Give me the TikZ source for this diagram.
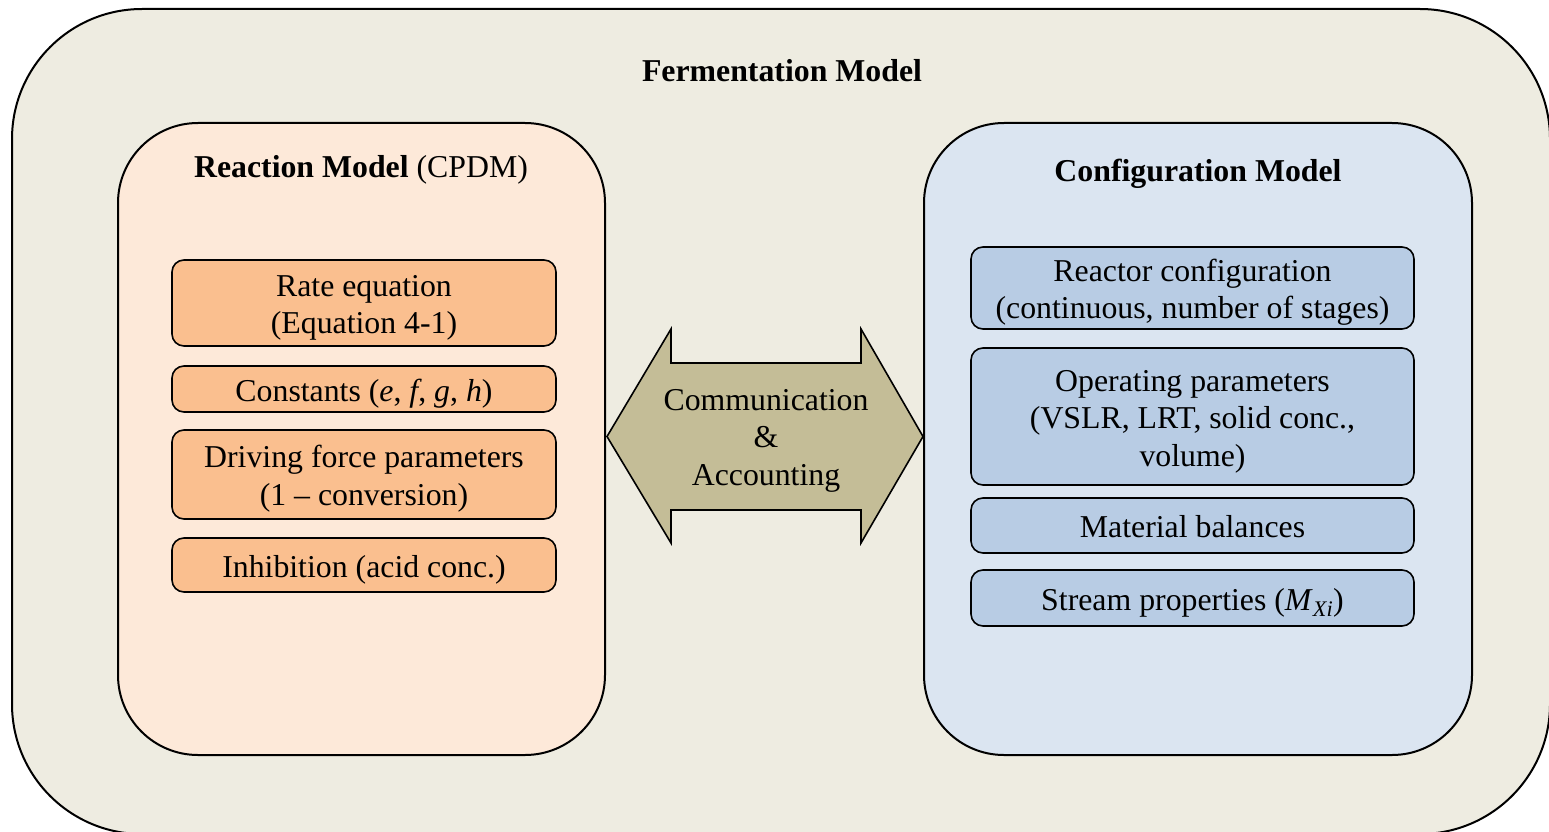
\documentclass[tikz,border=0pt]{standalone}
\usepackage{fontspec}
\setmainfont{Liberation Serif}
\definecolor{outerfill}{HTML}{EEECE1}
\definecolor{leftfill}{HTML}{FDE9D9}
\definecolor{orangefill}{HTML}{FABF8F}
\definecolor{rightfill}{HTML}{DBE5F1}
\definecolor{bluefill}{HTML}{B8CCE4}
\definecolor{arrowfill}{HTML}{C4BD97}
\newcommand{\bodyfont}{\fontsize{31.8}{37.5}\selectfont}
\newcommand{\itemtext}[1]{\raisebox{-4.5pt}[\height][\depth]{\begin{tabular}{@{}c@{}}#1\end{tabular}}}
\tikzset{
  bigbox/.style={draw=black, line width=2pt, rounded corners=80pt, inner sep=0pt},
  itembox/.style={draw=black, line width=1.6pt, rounded corners=12pt, align=center,
    inner sep=0pt, font=\bodyfont},
  orangebox/.style={itembox, fill=orangefill, minimum width=384pt},
  bluebox/.style={itembox, fill=bluefill, minimum width=443pt},
  titletext/.style={anchor=base, font=\bodyfont, inner sep=0pt},
}
\begin{document}
\begin{tikzpicture}[x=1pt,y=-1pt]
  \useasboundingbox (0,0) rectangle (1549,832);
  \clip (0,0) rectangle (1549,832);
  % outer box
  \node[draw=black, line width=2pt, rounded corners=130pt, fill=outerfill,
        minimum width=1538pt, minimum height=825pt, inner sep=0pt] (outer) at (781,421.5) {};
  \node[titletext] (outertitle) at (782,82) {\bfseries Fermentation Model};
  % left box
  \node[bigbox, fill=leftfill, minimum width=487pt, minimum height=632pt] (lbox) at (361.5,439) {};
  \node[titletext] (ltitle) at (361,177.5) {\bfseries Reaction Model\mdseries\ (CPDM)};
  % right box
  \node[bigbox, fill=rightfill, minimum width=548pt, minimum height=632pt] (rbox) at (1198,439) {};
  \node[titletext] (rtitle) at (1198,181.5) {\bfseries Configuration Model};
  % orange items
  \node[orangebox, minimum height=86pt] (rate) at (364,303) {\itemtext{Rate equation\\(Equation 4-1)}};
  \node[orangebox, minimum height=46pt] (const) at (364,389) {\itemtext{Constants (\textit{e}, \textit{f}, \textit{g}, \textit{h})}};
  \node[orangebox, minimum height=89pt] (drive) at (364,474.5) {\itemtext{Driving force parameters\\(1 – conversion)}};
  \node[orangebox, minimum height=54pt] (inhib) at (364,565) {\itemtext{Inhibition (acid conc.)}};
  % blue items
  \node[bluebox, minimum height=82pt] (reactor) at (1192.5,288) {\itemtext{Reactor configuration\\(continuous, number of stages)}};
  \node[bluebox, minimum height=137pt] (oper) at (1192.5,416.5) {\itemtext{Operating parameters\\(VSLR, LRT, solid conc.,\\volume)}};
  \node[bluebox, minimum height=55pt] (mat) at (1192.5,525.5) {\itemtext{Material balances}};
  \node[bluebox, minimum height=56pt] (stream) at (1192.5,598) {\itemtext{Stream properties (\textit{M}\textsubscript{\textit{Xi}})}};
  % double arrow
  \coordinate (ltip) at (607,436.5);
  \coordinate (rtip) at (923,436.5);
  \draw[line width=1.6pt, fill=arrowfill, line join=miter]
    (ltip) -- (671,329) -- (671,363) -- (861,363) -- (861,329) -- (rtip)
    -- (861,543) -- (861,510) -- (671,510) -- (671,543) -- cycle;
  \node[align=center, font=\bodyfont, inner sep=0pt] (comm) at (766,440.5) {Communication\\\&\\Accounting};
\end{tikzpicture}
\end{document}
